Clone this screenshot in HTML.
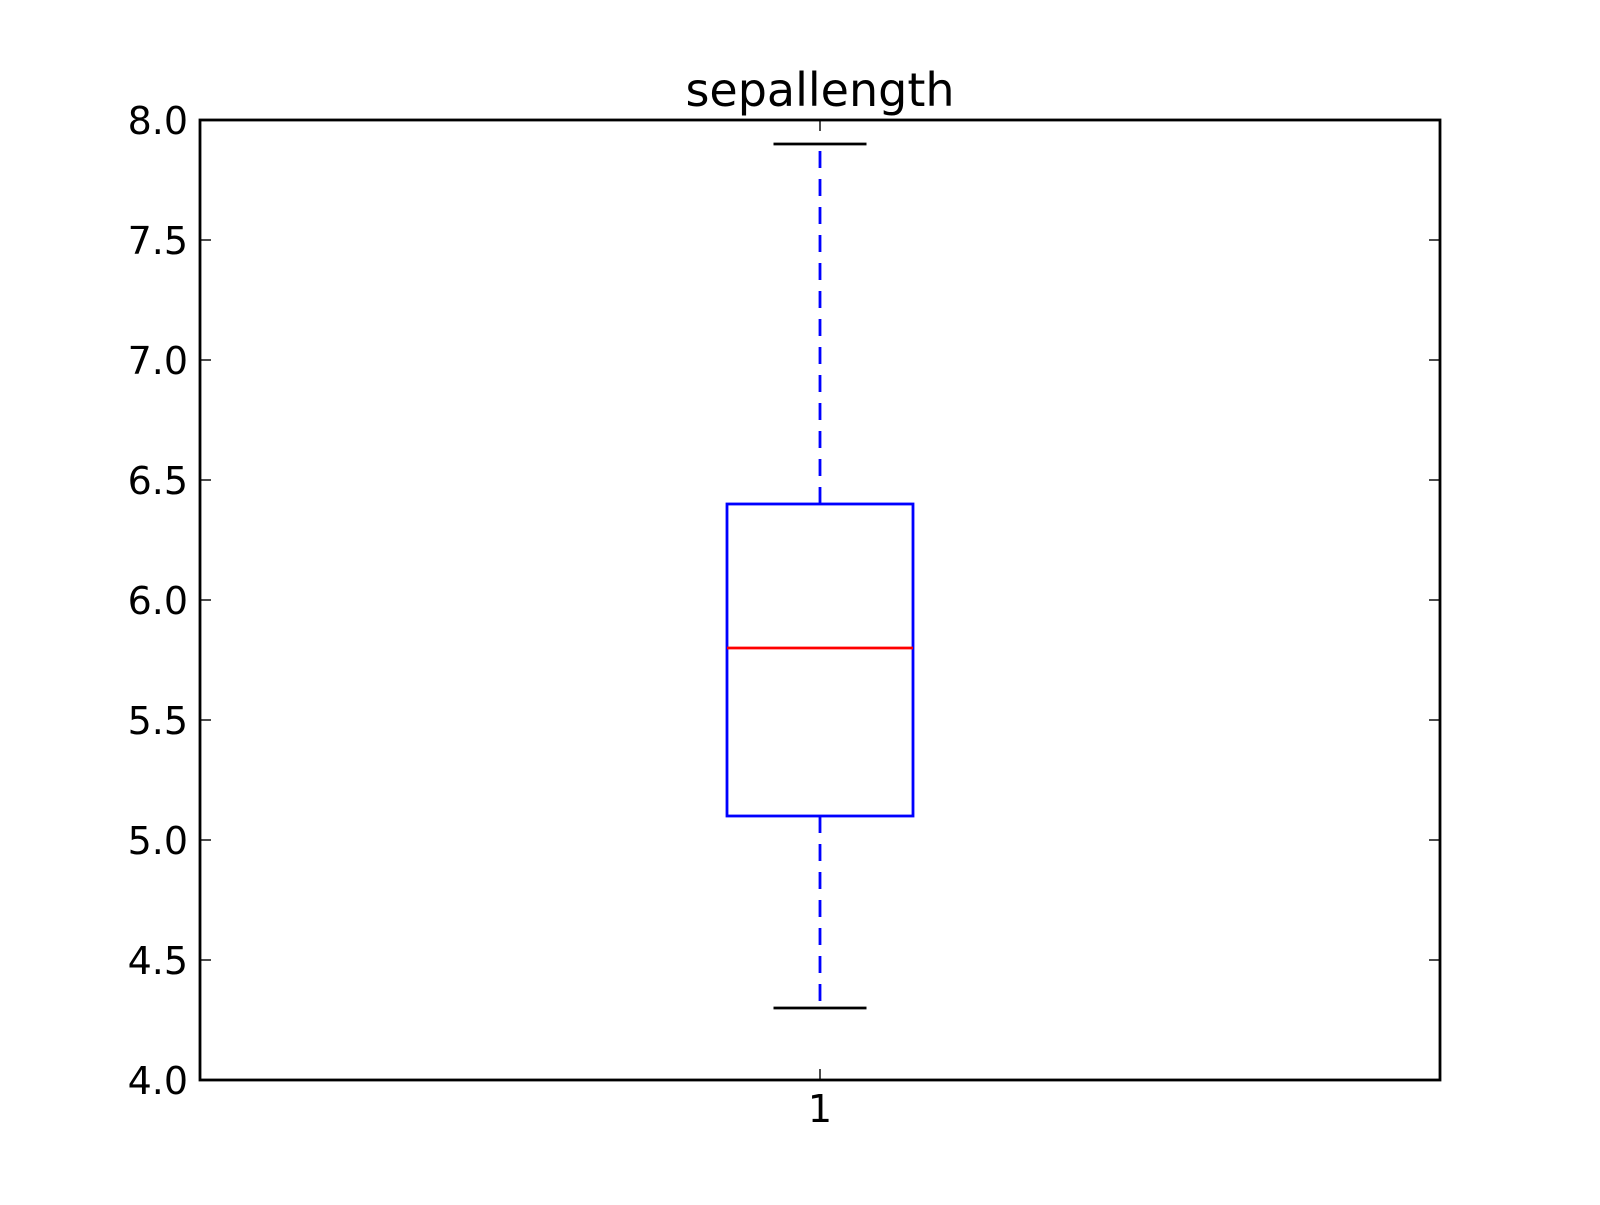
<!DOCTYPE html>
<html><head><meta charset="utf-8"><style>html,body{margin:0;padding:0;background:#fff}</style></head>
<body>
<svg id="chart" width="1600" height="1200" viewBox="0 0 1600 1200" xmlns="http://www.w3.org/2000/svg" font-family="'DejaVu Sans','Liberation Sans',sans-serif">
<rect width="1600" height="1200" fill="#fff"/>
<g id="g"></g>
</svg>
<script>
const categories = ["1"];
const whiskerLow = [4.3];
const q1 = [5.1];
const median = [5.8];
const q3 = [6.4];
const whiskerHigh = [7.9];
const yTicks = [4.0, 4.5, 5.0, 5.5, 6.0, 6.5, 7.0, 7.5, 8.0];
const yTickLabels = ["4.0","4.5","5.0","5.5","6.0","6.5","7.0","7.5","8.0"];

const L=200,R=1440,T=120,B=1080;
const yMin=4,yMax=8,xMin=0.5,xMax=1.5;
const y=v=>B-(v-yMin)/(yMax-yMin)*(B-T);
const x=v=>L+(v-xMin)/(xMax-xMin)*(R-L);
const NS="http://www.w3.org/2000/svg";
const g=document.getElementById('g');
function mk(tag,attrs){const e=document.createElementNS(NS,tag);for(const k in attrs)e.setAttribute(k,attrs[k]);g.appendChild(e);return e;}

categories.forEach((c,i)=>{
  const cx=x(i+1), hw=0.075*(R-L), cw=0.0375*(R-L);
  let e;
  e=mk('line',{x1:cx,x2:cx,y1:y(q3[i]),y2:y(whiskerHigh[i]),stroke:'#0000ff','stroke-width':2.8,'stroke-dasharray':'17,11'});
  
  
  e=mk('line',{x1:cx,x2:cx,y1:y(q1[i]),y2:y(whiskerLow[i]),stroke:'#0000ff','stroke-width':2.8,'stroke-dasharray':'17,11'});
  
  
  e=mk('line',{x1:cx-cw,x2:cx+cw,y1:y(whiskerHigh[i]),y2:y(whiskerHigh[i]),stroke:'#000','stroke-width':2.8});
  
  
  e=mk('line',{x1:cx-cw,x2:cx+cw,y1:y(whiskerLow[i]),y2:y(whiskerLow[i]),stroke:'#000','stroke-width':2.8});
  
  
  e=mk('rect',{x:cx-hw,y:y(q3[i]),width:2*hw,height:y(q1[i])-y(q3[i]),fill:'none',stroke:'#0000ff','stroke-width':2.8});
  
  
  e=mk('line',{x1:cx-hw,x2:cx+hw,y1:y(median[i]),y2:y(median[i]),stroke:'#ff0000','stroke-width':2.8});
  
  
  e=mk('line',{x1:cx,x2:cx,y1:B,y2:B-11,stroke:'#000','stroke-width':1.4});
  
  
  e=mk('line',{x1:cx,x2:cx,y1:T,y2:T+11,stroke:'#000','stroke-width':1.4});
  
  
  e=mk('text',{x:cx,y:B+42,'font-size':38,'text-anchor':'middle',fill:'#000'});
  e.textContent=c;
  
  
});

yTicks.forEach((v,i)=>{
  let e;
  e=mk('line',{x1:L,x2:L+11,y1:y(v),y2:y(v),stroke:'#000','stroke-width':1.4});
  
  
  e=mk('line',{x1:R,x2:R-11,y1:y(v),y2:y(v),stroke:'#000','stroke-width':1.4});
  
  
  e=mk('text',{x:L-12,y:y(v)+14,'font-size':38,'text-anchor':'end',fill:'#000'});
  e.textContent=yTickLabels[i];
  
  
});

let f=mk('rect',{x:L,y:T,width:R-L,height:B-T,fill:'none',stroke:'#000','stroke-width':2.8});


let t=mk('text',{x:(L+R)/2,y:T-14,'font-size':46,'text-anchor':'middle',fill:'#000'});
t.textContent='sepallength';


</script>
</body></html>
